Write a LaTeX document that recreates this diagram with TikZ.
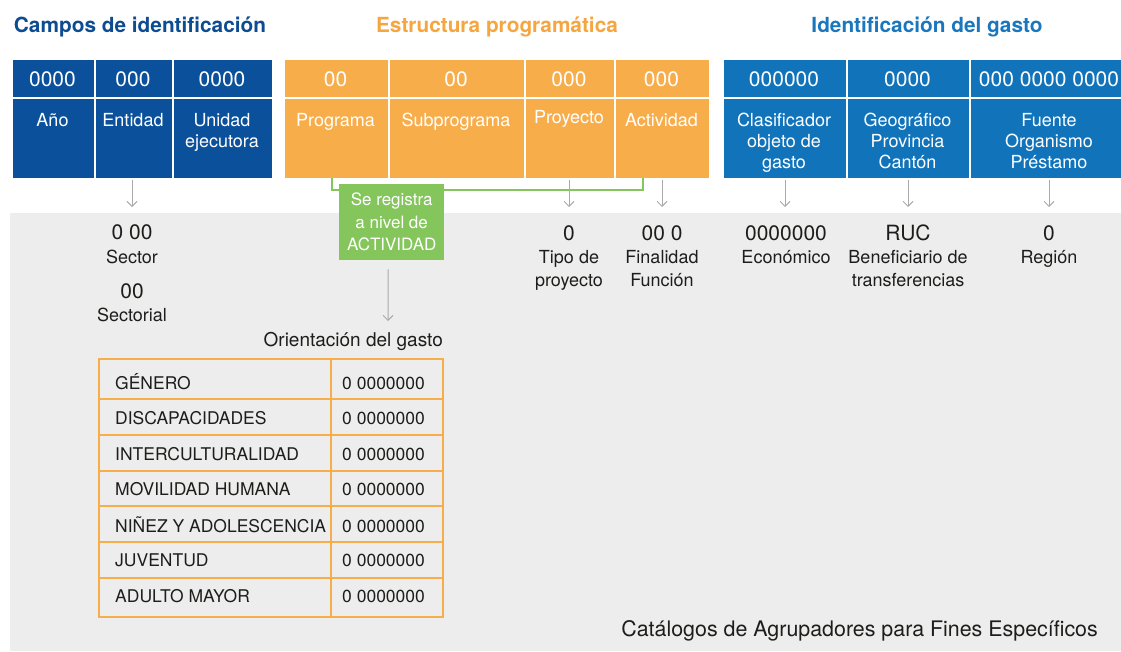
\documentclass[tikz,border=0pt]{standalone}
\usepackage{fontspec}
\setmainfont{TeX Gyre Heros}
\usetikzlibrary{arrows.meta}
\definecolor{dblue}{HTML}{0B509B}
\definecolor{orng}{HTML}{F8AD4B}
\definecolor{lblue}{HTML}{1174BB}
\definecolor{grn}{HTML}{85C65C}
\definecolor{bgray}{HTML}{EDEDED}
\definecolor{agray}{HTML}{AAAAAA}
\definecolor{tdblue}{HTML}{0D4C91}
\definecolor{torng}{HTML}{F6A640}
\definecolor{tlblue}{HTML}{1A76BD}
\definecolor{ink}{HTML}{1D1D1B}
\begin{document}
\begin{tikzpicture}[x=1pt,y=-1pt,
  cellbase/.style={draw=white, line width=2pt, inner sep=0pt, anchor=north west},
  cellD/.style={cellbase, fill=dblue},
  cellO/.style={cellbase, fill=orng},
  cellB/.style={cellbase, fill=lblue},
  ttl/.style={anchor=base, inner sep=0pt, font=\bfseries\fontsize{20.8}{24}\selectfont},
  dig/.style={anchor=base, inner sep=0pt, text=white, font=\fontsize{21}{24}\selectfont},
  lab/.style={anchor=base, inner sep=0pt, text=white, font=\fontsize{18}{21}\selectfont},
  val/.style={anchor=base, inner sep=0pt, text=ink, font=\fontsize{21}{24}\selectfont},
  vlab/.style={anchor=base, inner sep=0pt, text=ink, font=\fontsize{18}{21}\selectfont},
  tab/.style={anchor=base west, inner sep=0pt, text=ink, font=\fontsize{17.5}{20}\selectfont},
  garrow/.style={draw=agray, line width=1pt, -{Straight Barb[length=5pt,width=10pt]}},
  gline/.style={draw=grn, line width=1.6pt},
  tline/.style={draw=orng, line width=1.5pt}
]
\useasboundingbox (0,0) rectangle (1121,651);
% background
\fill[bgray] (10,213) rectangle (1121,651);

% titles
\node[ttl, text=tdblue] (t1) at (140,32) {Campos de identificación};
\node[ttl, text=torng] (t2) at (497,32) {Estructura programática};
\node[ttl, text=tlblue] (t3) at (927,32) {Identificación del gasto};

% campos cells
\node[cellD, minimum width=83pt, minimum height=39pt] (c1a) at (11,58) {};
\node[cellD, minimum width=78pt, minimum height=39pt] (c2a) at (94,58) {};
\node[cellD, minimum width=100pt, minimum height=39pt] (c3a) at (172,58) {};
\node[cellD, minimum width=83pt, minimum height=81pt] (c1b) at (11,97) {};
\node[cellD, minimum width=78pt, minimum height=81pt] (c2b) at (94,97) {};
\node[cellD, minimum width=100pt, minimum height=81pt] (c3b) at (172,97) {};
% estructura cells
\node[cellO, minimum width=105pt, minimum height=39pt] (o1a) at (283,58) {};
\node[cellO, minimum width=136pt, minimum height=39pt] (o2a) at (388,58) {};
\node[cellO, minimum width=90pt, minimum height=39pt] (o3a) at (524,58) {};
\node[cellO, minimum width=95pt, minimum height=39pt] (o4a) at (614,58) {};
\node[cellO, minimum width=105pt, minimum height=81pt] (o1b) at (283,97) {};
\node[cellO, minimum width=136pt, minimum height=81pt] (o2b) at (388,97) {};
\node[cellO, minimum width=90pt, minimum height=81pt] (o3b) at (524,97) {};
\node[cellO, minimum width=95pt, minimum height=81pt] (o4b) at (614,97) {};
% gasto cells
\node[cellB, minimum width=124pt, minimum height=39pt] (b1a) at (722,58) {};
\node[cellB, minimum width=123pt, minimum height=39pt] (b2a) at (846,58) {};
\node[cellB, minimum width=160pt, minimum height=39pt] (b3a) at (969,58) {};
\node[cellB, minimum width=124pt, minimum height=81pt] (b1b) at (722,97) {};
\node[cellB, minimum width=123pt, minimum height=81pt] (b2b) at (846,97) {};
\node[cellB, minimum width=160pt, minimum height=81pt] (b3b) at (969,97) {};

% digits
\node[dig] (d1) at (52.5,86.5) {0000};
\node[dig] (d2) at (133,86.5) {000};
\node[dig] (d3) at (222,86.5) {0000};
\node[dig] (d4) at (335.5,86.5) {00};
\node[dig] (d5) at (456,86.5) {00};
\node[dig] (d6) at (569,86.5) {000};
\node[dig] (d7) at (661.5,86.5) {000};
\node[dig] (d8) at (784,86.5) {000000};
\node[dig] (d9) at (907.5,86.5) {0000};
\node[dig] (d10) at (1049,86.5) {000 0000 0000};

% labels
\node[lab] (l1) at (52.5,126) {Año};
\node[lab] (l2) at (133,126) {Entidad};
\node[lab] (l3a) at (222,126) {Unidad};
\node[lab] (l3b) at (222,147) {ejecutora};
\node[lab] (l4) at (335.5,126) {Programa};
\node[lab] (l5) at (456,126) {Subprograma};
\node[lab] (l6) at (569,123) {Proyecto};
\node[lab] (l7) at (661.5,126) {Actividad};
\node[lab] (l8a) at (784,126) {Clasificador};
\node[lab] (l8b) at (784,147) {objeto de};
\node[lab] (l8c) at (784,168) {gasto};
\node[lab] (l9a) at (907.5,126) {Geográfico};
\node[lab] (l9b) at (907.5,147) {Provincia};
\node[lab] (l9c) at (907.5,168) {Cantón};
\node[lab] (l10a) at (1049,126) {Fuente};
\node[lab] (l10b) at (1049,147) {Organismo};
\node[lab] (l10c) at (1049,168) {Préstamo};

% green bracket
\coordinate (bL) at (332,178);
\coordinate (bR) at (643,178);
\draw[gline] (bL) -- ++(0,12) -| (bR);

% gray arrows from header
\coordinate (aE) at (132,207);
\coordinate (aP) at (569,207);
\coordinate (aA) at (662,207);
\coordinate (aC) at (785,207);
\coordinate (aG) at (908,207);
\coordinate (aF) at (1049,207);
\draw[garrow] (c2b.south -| aE) -- (aE);
\draw[garrow] (o3b.south -| aP) -- (aP);
\draw[garrow] (o4b.south -| aA) -- (aA);
\draw[garrow] (b1b.south -| aC) -- (aC);
\draw[garrow] (b2b.south -| aG) -- (aG);
\draw[garrow] (b3b.south -| aF) -- (aF);

% green box
\node[fill=grn, inner sep=0pt, anchor=north west, minimum width=105pt, minimum height=76pt,
      text=white, align=center, font=\fontsize{17}{22.5}\selectfont] (gbox) at (339,184)
      {Se registra\\a nivel de\\ACTIVIDAD};
\coordinate (oA) at (388,321);
\draw[garrow] ([xshift=-3.5pt,yshift=-9pt]gbox.south) -- (oA);

% values
\node[val] (v1) at (132,239.5) {0 00};
\node[vlab] (v1l) at (132,263) {Sector};
\node[val] (v2) at (132,298) {00};
\node[vlab] (v2l) at (132,321) {Sectorial};
\node[val] (v3) at (569,240) {0};
\node[vlab] (v3a) at (569,263) {Tipo de};
\node[vlab] (v3b) at (569,286) {proyecto};
\node[val] (v4) at (662,240) {00 0};
\node[vlab] (v4a) at (662,263) {Finalidad};
\node[vlab] (v4b) at (662,286) {Función};
\node[val] (v5) at (786,240) {0000000};
\node[vlab] (v5a) at (786,263) {Económico};
\node[val] (v6) at (908,240) {RUC};
\node[vlab] (v6a) at (908,263) {Beneficiario de};
\node[vlab] (v6b) at (908,286) {transferencias};
\node[val] (v7) at (1049,240) {0};
\node[vlab] (v7a) at (1049,263) {Región};

% orientacion
\node[anchor=base east, inner sep=0pt, text=ink, font=\fontsize{19}{22}\selectfont] (ori) at (443,346) {Orientación del gasto};

% table
\draw[tline] (99,359) rectangle (443,617);
\draw[tline] (331,359) -- (331,617);
\foreach \yy in {399,435,471,506,542,578} \draw[tline] (99,\yy) -- (443,\yy);
\node[tab] (r1) at (115,389.3) {GÉNERO};
\node[tab] (r2) at (115,424) {DISCAPACIDADES};
\node[tab] (r3) at (115,460) {INTERCULTURALIDAD};
\node[tab] (r4) at (115,495.7) {MOVILIDAD HUMANA};
\node[tab] (r5) at (115,532) {NIÑEZ Y ADOLESCENCIA};
\node[tab] (r6) at (115,566.7) {JUVENTUD};
\node[tab] (r7) at (115,602.7) {ADULTO MAYOR};
\node[tab] (n1) at (342,389.3) {0 0000000};
\node[tab] (n2) at (342,424) {0 0000000};
\node[tab] (n3) at (342,460) {0 0000000};
\node[tab] (n4) at (342,495.7) {0 0000000};
\node[tab] (n5) at (342,532) {0 0000000};
\node[tab] (n6) at (342,566.7) {0 0000000};
\node[tab] (n7) at (342,602.7) {0 0000000};

% catalog caption
\node[anchor=base east, inner sep=0pt, text=ink, font=\fontsize{21.4}{24}\selectfont] (cat) at (1098,636.7) {Catálogos de Agrupadores para Fines Específicos};
\end{tikzpicture}
\end{document}
